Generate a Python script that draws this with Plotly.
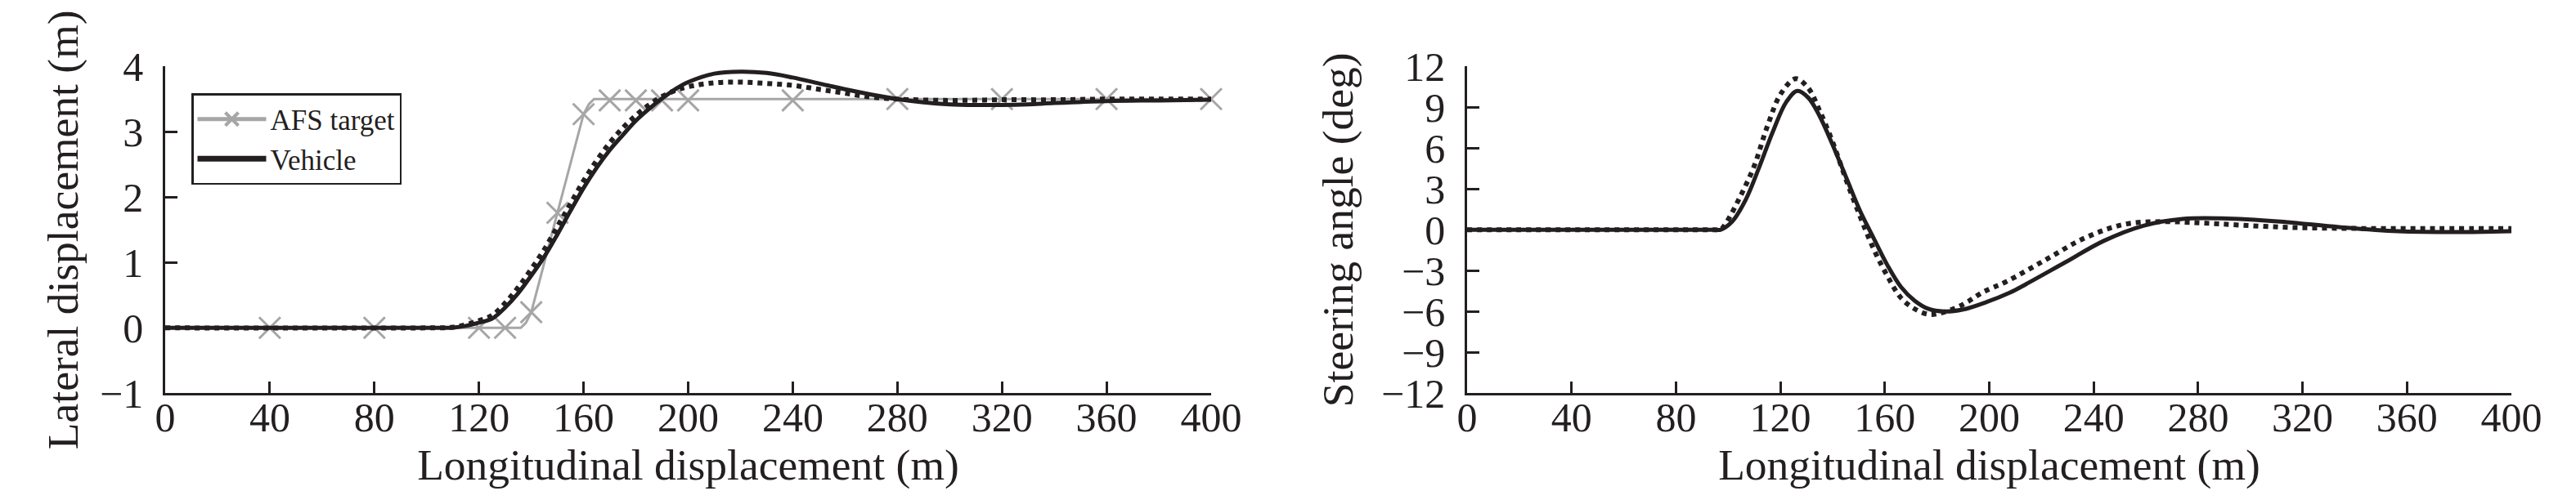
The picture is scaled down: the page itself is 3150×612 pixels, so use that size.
import plotly.graph_objects as go

# ---------------- data ----------------
# Left panel: lateral displacement (m) vs longitudinal displacement (m)
afs_path_x = [0, 136, 138, 140, 150, 160, 162, 164, 400]
afs_path_y = [0, 0, 0.08, 0.24, 1.76, 3.27, 3.42, 3.5, 3.5]
afs_mark_x = [40, 80, 120, 130, 140, 150, 160, 170, 180, 190, 200, 240, 280, 320, 360, 400]
afs_mark_y = [0, 0, 0, 0, 0.24, 1.76, 3.27, 3.48, 3.48, 3.48, 3.48, 3.48, 3.5, 3.5, 3.5, 3.5]

veh_lat_x = [0, 100, 110, 115, 120, 125, 130, 135, 140, 145, 150, 155, 160, 165, 170, 175, 180,
             185, 190, 195, 200, 210, 220, 230, 240, 250, 260, 270, 280, 290, 300, 310, 320, 330,
             340, 360, 380, 400]
veh_lat_y = [0, 0, 0.005, 0.03, 0.08, 0.14, 0.31, 0.53, 0.8, 1.09, 1.43, 1.79, 2.14, 2.45, 2.72,
             2.95, 3.17, 3.35, 3.51, 3.65, 3.76, 3.89, 3.92, 3.9, 3.83, 3.74, 3.65, 3.57, 3.5, 3.45,
             3.42, 3.41, 3.41, 3.42, 3.44, 3.47, 3.48, 3.49]

dot_lat_x = [0, 100, 110, 115, 120, 125, 130, 135, 140, 145, 150, 155, 160, 165, 170, 175, 180,
             185, 190, 195, 200, 210, 220, 230, 240, 250, 260, 270, 280, 300, 320, 340, 360, 380, 400]
dot_lat_y = [0, 0, 0.01, 0.05, 0.11, 0.19, 0.38, 0.62, 0.9, 1.2, 1.55, 1.9, 2.25, 2.56, 2.83,
             3.06, 3.25, 3.41, 3.54, 3.63, 3.69, 3.75, 3.76, 3.74, 3.71, 3.65, 3.59, 3.53, 3.5,
             3.48, 3.49, 3.49, 3.5, 3.5, 3.5]

# Right panel: steering angle (deg) vs longitudinal displacement (m)
veh_steer_x = [0, 95, 97, 101.5, 106.7, 111.9, 117.1, 122.3, 126.5, 130.7, 134.9, 140.1, 145.3,
               150.5, 155.7, 161, 166.2, 171.4, 176.6, 182.8, 190, 199, 208, 214, 229, 244, 259,
               274, 289, 311.6, 334, 356.5, 379, 400]
veh_steer_y = [0, 0, 0, 0.6, 2.2, 4.6, 7.2, 9.4, 10.2, 9.7, 8.4, 6.2, 3.8, 1.4, -0.6, -2.6, -4.2,
               -5.2, -5.8, -6.0, -5.85, -5.3, -4.6, -4.0, -2.4, -0.8, 0.3, 0.8, 0.84, 0.6, 0.2,
               -0.1, -0.16, -0.1]

dot_steer_x = [0, 95, 97, 99.5, 104.5, 109.8, 115, 120.2, 125.9, 130.7, 134.9, 140.1, 145.3,
               150.5, 155.7, 161, 166.2, 171.4, 176.6, 180.5, 187, 191.6, 197.4, 206.6, 221.6,
               236.6, 251.6, 266.6, 281.6, 311.6, 341.6, 371.6, 400]
dot_steer_y = [0, 0, 0, 0.6, 2.4, 4.6, 7.6, 10.0, 11.1, 10.4, 8.8, 6.4, 3.6, 1.0, -1.4, -3.4,
               -5.0, -5.8, -6.2, -6.15, -5.75, -5.3, -4.6, -3.8, -2.2, -0.6, 0.4, 0.6, 0.5, 0.2,
               0.1, 0.1, 0.1]

x_ticks = [0, 40, 80, 120, 160, 200, 240, 280, 320, 360, 400]
lat_ticks = [-1, 0, 1, 2, 3, 4]
lat_tick_text = ["\u22121", "0", "1", "2", "3", "4"]
steer_ticks = [-12, -9, -6, -3, 0, 3, 6, 9, 12]
steer_tick_text = ["\u221212", "\u22129", "\u22126", "\u22123", "0", "3", "6", "9", "12"]

# ---------------- styling ----------------
INK = "#231f20"
GRAY = "#a6a6a6"
FONT = "Liberation Serif"
TICK_SIZE = 50
TITLE_SIZE = 53.5

fig = go.Figure()

# left panel
fig.add_trace(go.Scatter(x=afs_path_x, y=afs_path_y, mode="lines",
                         line=dict(color=GRAY, width=3), showlegend=False,
                         xaxis="x", yaxis="y", hoverinfo="skip"))
fig.add_trace(go.Scatter(x=afs_mark_x, y=afs_mark_y, mode="markers",
                         marker=dict(symbol="x-thin", size=26, color=GRAY,
                                     line=dict(color=GRAY, width=3)),
                         showlegend=False, xaxis="x", yaxis="y", cliponaxis=False))
fig.add_trace(go.Scatter(x=dot_lat_x, y=dot_lat_y, mode="lines", line_shape="spline",
                         line=dict(color=INK, width=6, dash="6px,6px"),
                         showlegend=False, xaxis="x", yaxis="y"))
fig.add_trace(go.Scatter(x=veh_lat_x, y=veh_lat_y, mode="lines", line_shape="spline",
                         line=dict(color=INK, width=5),
                         showlegend=False, xaxis="x", yaxis="y"))
# legend entries
fig.add_trace(go.Scatter(x=[None], y=[None], mode="lines+markers", name="AFS target",
                         line=dict(color=GRAY, width=5),
                         marker=dict(symbol="x-thin", size=16, color=GRAY,
                                     line=dict(color=GRAY, width=4)),
                         xaxis="x", yaxis="y"))
fig.add_trace(go.Scatter(x=[None], y=[None], mode="lines", name="Vehicle",
                         line=dict(color=INK, width=7), xaxis="x", yaxis="y"))

# right panel
fig.add_trace(go.Scatter(x=dot_steer_x, y=dot_steer_y, mode="lines", line_shape="spline",
                         line=dict(color=INK, width=6, dash="6px,6px"),
                         showlegend=False, xaxis="x2", yaxis="y2"))
fig.add_trace(go.Scatter(x=veh_steer_x, y=veh_steer_y, mode="lines", line_shape="spline",
                         line=dict(color=INK, width=5),
                         showlegend=False, xaxis="x2", yaxis="y2"))

W, H = 3150, 612
ydom = [1 - 473.3 / H, 1 - 73.3 / H]

axis_common = dict(showline=True, linecolor=INK, linewidth=2.5, ticks="inside", ticklen=15,
                   tickwidth=2.5, tickcolor=INK, showgrid=False, zeroline=False,
                   mirror=False, automargin=False,
                   tickfont=dict(family=FONT, size=TICK_SIZE, color=INK))

title_font = dict(family=FONT, size=TITLE_SIZE, color=INK)

fig.update_layout(
    width=W, height=H, template="none",
    paper_bgcolor="white", plot_bgcolor="white",
    margin=dict(l=0, r=0, t=0, b=0),
    font=dict(family=FONT, color=INK),
    showlegend=True,
    legend=dict(x=226 / W, y=1 - 106 / H, xanchor="left", yanchor="top",
                bgcolor="white", bordercolor=INK, borderwidth=2.5,
                font=dict(family=FONT, size=35, color=INK),
                tracegroupgap=0, itemwidth=84),
    xaxis=dict(domain=[194 / W, 1473 / W], range=[0, 400], tickvals=x_ticks,
               anchor="y", ticklabelstandoff=-16,
               title=dict(text="Longitudinal displacement (m)", font=title_font, standoff=2),
               **axis_common),
    yaxis=dict(domain=ydom, range=[-1, 4], tickvals=lat_ticks, ticktext=lat_tick_text,
               anchor="x", ticklabelstandoff=14,
               title=dict(text="Lateral displacement (m)", font=title_font, standoff=10),
               **axis_common),
    xaxis2=dict(domain=[1786 / W, 3063 / W], range=[0, 400], tickvals=x_ticks,
                anchor="y2", ticklabelstandoff=-16,
                title=dict(text="Longitudinal displacement (m)", font=title_font, standoff=2),
                **axis_common),
    yaxis2=dict(domain=ydom, range=[-12, 12], tickvals=steer_ticks, ticktext=steer_tick_text,
                anchor="x2", ticklabelstandoff=14,
                title=dict(text="Steering angle (deg)", font=title_font, standoff=18),
                **axis_common),
)

fig.write_html("out.html")
